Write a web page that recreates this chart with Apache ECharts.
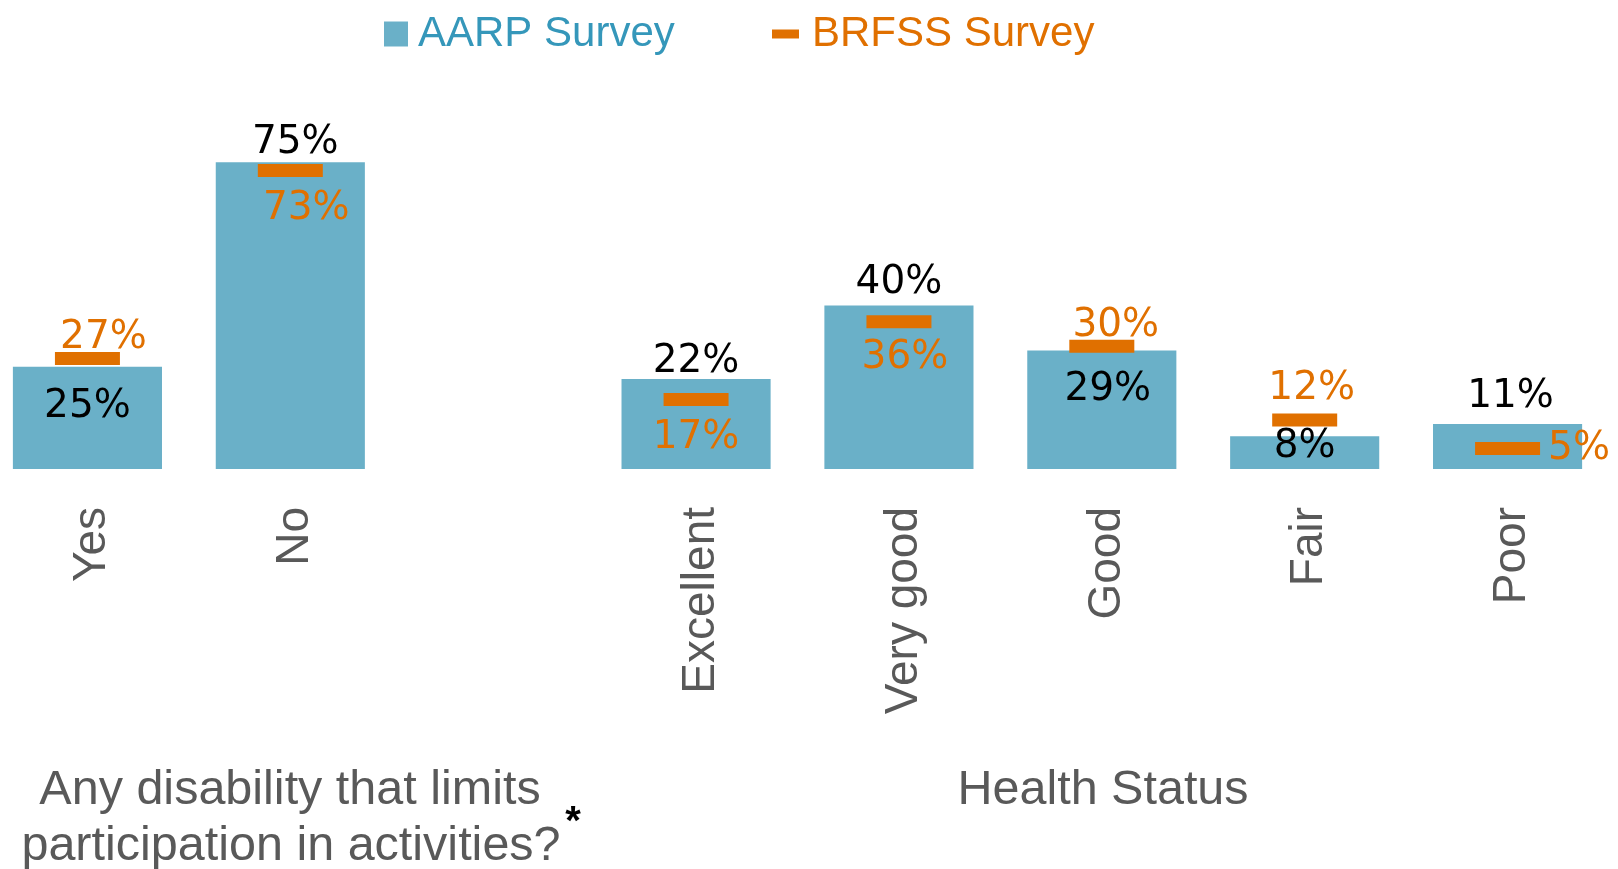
<!DOCTYPE html>
<html>
<head>
<meta charset="utf-8">
<script src="https://cdn.jsdelivr.net/npm/echarts@6/dist/echarts.min.js"></script>
<style>
  html, body { margin: 0; padding: 0; background: #fff; }
  #chart { width: 1618px; height: 869px; }
</style>
</head>
<body>
<div id="chart"></div>
<script>
// categories ('' = spacer between the two groups)
var categories = ['Yes', 'No', '', 'Excellent', 'Very good', 'Good', 'Fair', 'Poor'];
var aarp = [25, 75, null, 22, 40, 29, 8, 11];
var brfss = [27, 73, null, 17, 36, 30, 12, 5];

var BAR = '#6AB0C8';
var ORANGE = '#E07000';
var PCT_FONT = 'DejaVu Sans';
var TITLE_FONT = '48.5px "Liberation Sans"';

// label placement for each bar / marker
var aarpLab = [
  { position: 'insideTop', distance: 21 },
  { position: 'top', distance: 0, offset: [5, 0] },
  null,
  { position: 'top', distance: -2 },
  { position: 'top', distance: 3 },
  { position: 'insideTop', distance: 20, offset: [6, 0] },
  { position: 'inside', offset: [0, -6] },
  { position: 'top', distance: 8, offset: [3, 0] }
];
var brfssLab = [
  { position: 'top', distance: -5, offset: [16, 0] },
  { position: 'bottom', distance: 12, offset: [16, 0] },
  null,
  { position: 'bottom', distance: 12 },
  { position: 'bottom', distance: 10, offset: [6, 0] },
  { position: 'top', distance: -6, offset: [14, 0] },
  { position: 'top', distance: 5, offset: [7, 0] },
  { position: 'right', distance: 8 }
];

function build(values, labs) {
  return values.map(function (v, i) {
    if (v == null) return '-';
    return { value: v, label: labs[i] };
  });
}

var chart = echarts.init(document.getElementById('chart'));
chart.setOption({
  animation: false,
  legend: [
    {
      data: ['AARP Survey'],
      left: 379, top: 8,
      icon: 'rect', itemWidth: 24, itemHeight: 25,
      textStyle: { color: '#3597BA', fontSize: 42, fontFamily: 'Liberation Sans', padding: [0, 0, 0, 5] }
    },
    {
      data: ['BRFSS Survey'],
      left: 767, top: 8,
      icon: 'rect', itemWidth: 27, itemHeight: 9,
      textStyle: { color: ORANGE, fontSize: 42, fontFamily: 'Liberation Sans', padding: [0, 0, 0, 8] }
    }
  ],
  grid: { left: -14, right: 9, top: 60, bottom: 400, outerBoundsMode: 'none' },
  xAxis: {
    type: 'category',
    data: categories,
    axisLine: { show: false },
    axisTick: { show: false },
    axisLabel: {
      rotate: 90, margin: 38, interval: 0,
      formatter: function (v) { return v ? '{c|' + v + '}' : ''; },
      rich: {
        c: { color: '#595959', fontSize: 46, fontFamily: 'Liberation Sans', padding: [10, 0, 0, 0] }
      }
    }
  },
  yAxis: { type: 'value', min: 0, max: 100, show: false, splitLine: { show: false } },
  series: [
    {
      name: 'AARP Survey',
      type: 'bar',
      barWidth: '73.5%',
      itemStyle: { color: BAR },
      label: {
        show: true, formatter: '{c}%', color: '#000',
        fontSize: 39, fontFamily: PCT_FONT
      },
      data: build(aarp, aarpLab)
    },
    {
      name: 'BRFSS Survey',
      type: 'scatter',
      symbol: 'rect',
      symbolSize: [65, 13],
      itemStyle: { color: ORANGE, opacity: 1 },
      label: {
        show: true, formatter: '{c}%', color: ORANGE,
        fontSize: 39, fontFamily: PCT_FONT
      },
      z: 3,
      data: build(brfss, brfssLab)
    }
  ],
  graphic: [
    {
      type: 'text', x: 290, y: 791,
      style: { text: 'Any disability that limits', align: 'center', verticalAlign: 'middle',
               fill: '#595959', font: TITLE_FONT }
    },
    {
      type: 'text', x: 291, y: 847,
      style: { text: 'participation in activities?', align: 'center', verticalAlign: 'middle',
               fill: '#595959', font: TITLE_FONT }
    },
    {
      type: 'text', x: 573, y: 823,
      style: { text: '*', align: 'center', verticalAlign: 'middle',
               fill: '#000', font: 'bold 40px "Liberation Sans"' }
    },
    {
      type: 'text', x: 1103, y: 791,
      style: { text: 'Health Status', align: 'center', verticalAlign: 'middle',
               fill: '#595959', font: TITLE_FONT }
    }
  ]
});
</script>
</body>
</html>
